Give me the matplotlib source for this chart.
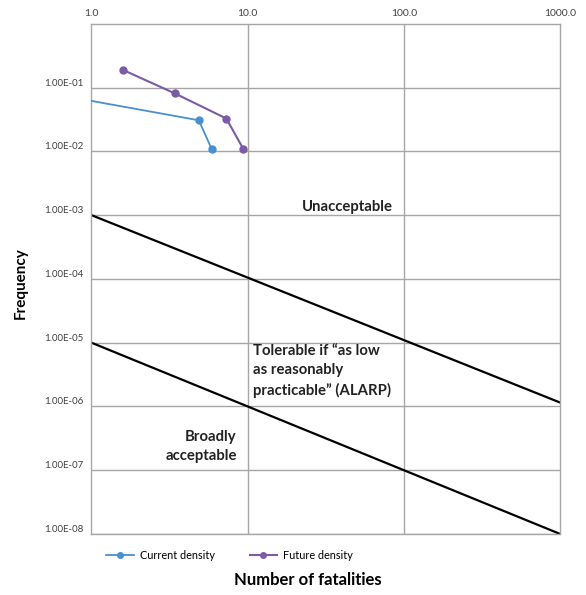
import matplotlib.pyplot as plt

plt.rcParams['font.family'] = ['Lato', 'DejaVu Sans']

# Societal risk (F-N) data
current_n = [0.5, 4.87, 5.87]
current_f = [0.084, 0.0307, 0.011]
future_n = [1.6, 3.42, 7.3, 9.36]
future_f = [0.188, 0.081, 0.0327, 0.011]

# criterion lines
upper_n = [1.0, 1000.0]
upper_f = [1e-3, 1.15e-6]
lower_n = [1.0, 1000.0]
lower_f = [1e-5, 1e-8]

y_ticks = [1e-1, 1e-2, 1e-3, 1e-4, 1e-5, 1e-6, 1e-7, 1e-8]
y_labels = ['1.00E-01', '1.00E-02', '1.00E-03', '1.00E-04',
            '1.00E-05', '1.00E-06', '1.00E-07', '1.00E-08']
x_ticks = [1, 10, 100, 1000]
x_labels = ['1.0', '10.0', '100.0', '1000.0']

fig = plt.figure(figsize=(5.86, 5.95), dpi=100)
ax = fig.add_axes([0.156, 0.1025, 0.800, 0.8575])

grid_col = '#a6a6a6'
ax.set_xscale('log')
ax.set_yscale('log')
ax.set_xlim(1, 1000)
ax.set_ylim(1e-8, 1)

for y in y_ticks:
    ax.axhline(y, color=grid_col, lw=1, zorder=0)
for x in [10, 100]:
    ax.axvline(x, color=grid_col, lw=1, zorder=0)
for s in ax.spines.values():
    s.set_color(grid_col)
    s.set_linewidth(1)

ax.plot(upper_n, upper_f, color='black', lw=1.6, zorder=2)
ax.plot(lower_n, lower_f, color='black', lw=1.6, zorder=2)

l1, = ax.plot(current_n, current_f, color='#4a8fce', lw=1.3, marker='o', ms=5,
              label='Current density', zorder=3)
l2, = ax.plot(future_n, future_f, color='#7b5aa6', lw=1.5, marker='o', ms=5,
              label='Future density', zorder=3)

ax.xaxis.tick_top()
ax.set_xticks(x_ticks)
ax.set_xticklabels(x_labels, fontsize=7.5, color='#404040')
ax.set_yticks(y_ticks)
ax.set_yticklabels(y_labels, fontsize=7, color='#404040', va='bottom')
ax.minorticks_off()
ax.tick_params(length=0, pad=6)
ax.tick_params(axis='x', pad=4)

txt = dict(fontsize=10.7, fontweight='bold', color='#222222', linespacing=1.45)
ax.text(85, 1.35e-3, 'Unacceptable', ha='right', va='center', **txt)
ax.text(10.8, 9.5e-6, 'Tolerable if “as low\nas reasonably\npracticable” (ALARP)',
        ha='left', va='top', **txt)
ax.text(8.5, 4.3e-7, 'Broadly\nacceptable', ha='right', va='top', **txt)

fig.text(0.035, 0.524, 'Frequency', rotation=90, ha='center', va='center',
         fontsize=11, fontweight='bold')
fig.text(0.526, 0.025, 'Number of fatalities', ha='center', va='center',
         fontsize=12, fontweight='bold')

fig.legend(handles=[l1, l2], loc='center left', bbox_to_anchor=(0.165, 0.067),
           ncol=2, frameon=False, fontsize=7.8, handlelength=2.5,
           handletextpad=0.6, columnspacing=3.2, markerscale=0.8)

fig.savefig('out.png', dpi=100)
